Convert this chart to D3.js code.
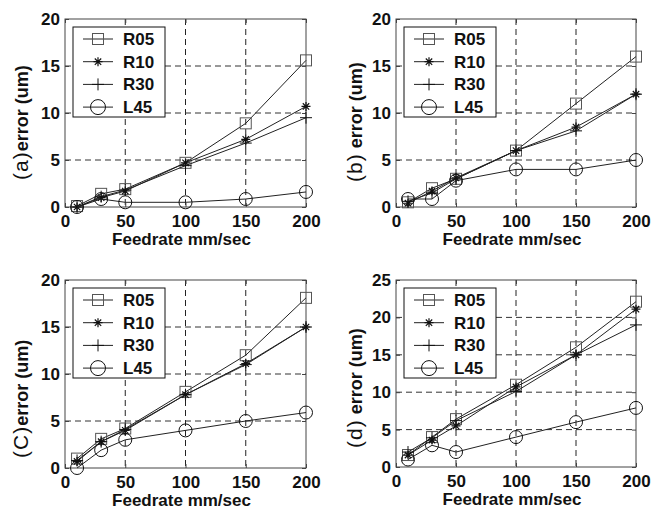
<!DOCTYPE html>
<html>
<head>
<meta charset="utf-8">
<script src="https://cdn.jsdelivr.net/npm/d3@7"></script>
<style>
  body { margin: 0; background: #fff; }
  svg { display: block; font-family: "Liberation Sans", Arial, sans-serif; }
</style>
</head>
<body>
<div id="chartContainer"></div>
<script>
// feedrate values (x) shared by all four panels
const feedrates = [10, 30, 50, 100, 150, 200];
const seriesNames = ["R05", "R10", "R30", "L45"];
const xTicks = [0, 50, 100, 150, 200];
const yTicks20 = [0, 5, 10, 15, 20];
const yTicks25 = [0, 5, 10, 15, 20, 25];

// (a)
const r05_a = [0.1, 1.4, 1.9, 4.7, 8.9, 15.6];
const r10_a = [0.0, 1.0, 1.7, 4.7, 7.2, 10.7];
const r30_a = [0.0, 1.1, 1.8, 4.4, 6.8, 9.5];
const l45_a = [0.0, 0.85, 0.5, 0.5, 0.85, 1.6];
// (b)
const r05_b = [0.5, 2.0, 3.0, 6.0, 11.0, 16.0];
const r10_b = [0.4, 1.7, 3.1, 6.0, 8.5, 12.0];
const r30_b = [0.6, 1.5, 3.0, 6.0, 8.1, 12.0];
const l45_b = [0.85, 0.85, 2.8, 4.0, 4.0, 5.0];
// (c)
const r05_c = [1.0, 3.1, 4.2, 8.1, 12.0, 18.1];
const r10_c = [0.7, 2.8, 4.0, 7.8, 11.1, 15.0];
const r30_c = [0.8, 2.8, 4.1, 7.8, 11.0, 15.0];
const l45_c = [0.0, 1.9, 3.0, 4.0, 5.0, 5.9];
// (d)
const r05_d = [1.6, 4.0, 6.4, 11.0, 16.0, 22.1];
const r10_d = [1.6, 3.6, 5.5, 10.7, 15.0, 21.1];
const r30_d = [2.0, 3.9, 6.2, 10.1, 15.0, 19.0];
const l45_d = [1.0, 2.9, 2.0, 4.0, 6.0, 7.9];

const markers = ["square", "star", "plus", "circle"];

// panel layout (box = left, top, width, height)
const panels = [
    {tag: "(a)", text: "error (um)", box: [65, 19, 241, 188], yMax: 20, yTicks: yTicks20,
     data: [r05_a, r10_a, r30_a, l45_a], lx: 28, ly: 180},
    {tag: "(b)", text: " error (um)", box: [396, 19, 240, 188], yMax: 20, yTicks: yTicks20,
     data: [r05_b, r10_b, r30_b, l45_b], lx: 362, ly: 182},
    {tag: "(C)", text: "error (um)", box: [65, 280, 241, 188], yMax: 20, yTicks: yTicks20,
     data: [r05_c, r10_c, r30_c, l45_c], lx: 28, ly: 458},
    {tag: "(d)", text: " error (um)", box: [396, 280, 240, 187], yMax: 25, yTicks: yTicks25,
     data: [r05_d, r10_d, r30_d, l45_d], lx: 362, ly: 448}
];

const svg = d3.select("#chartContainer")
    .append("svg")
    .attr("width", 664)
    .attr("height", 516);

svg.append("rect").attr("width", 664).attr("height", 516).attr("fill", "#fff");

function drawMarker(g, type, x, y, big)
{
    var m = g.append("g").attr("transform", `translate(${x},${y})`);
    if (type == "square") {
        var s = 11;
        m.append("rect").attr("x", -s/2).attr("y", -s/2).attr("width", s).attr("height", s)
            .attr("fill", "none").attr("stroke", "#555").attr("stroke-width", 1);
    } else if (type == "circle") {
        m.append("circle").attr("r", big ? 7.5 : 6.5)
            .attr("fill", "none").attr("stroke", "#111").attr("stroke-width", 1);
    } else if (type == "plus") {
        var a = 6;
        m.append("path").attr("d", `M${-a},0H${a}M0,${-a}V${a}`)
            .attr("stroke", "#111").attr("stroke-width", 1);
    } else {
        var b = 4.5, c = 3.2;
        m.append("path").attr("d", `M${-b},0H${b}M0,${-b}V${b}M${-c},${-c}L${c},${c}M${-c},${c}L${c},${-c}`)
            .attr("stroke", "#111").attr("stroke-width", 1.2);
    }
}

function drawPanel(p)
{
    const [left, top, w, h] = p.box;
    const g = svg.append("g").attr("transform", `translate(${left},${top})`);

    const xScale = d3.scaleLinear().domain([0, 200]).range([0, w]);
    const yScale = d3.scaleLinear().domain([0, p.yMax]).range([h, 0]);

    // dashed grid
    g.append("g").selectAll("line")
        .data(xTicks.slice(1, -1))
        .join("line")
        .attr("x1", d => xScale(d)).attr("x2", d => xScale(d))
        .attr("y1", 0).attr("y2", h)
        .attr("stroke", "#222").attr("stroke-dasharray", "6,4");
    g.append("g").selectAll("line")
        .data(p.yTicks.slice(1, -1))
        .join("line")
        .attr("y1", d => yScale(d)).attr("y2", d => yScale(d))
        .attr("x1", 0).attr("x2", w)
        .attr("stroke", "#333").attr("stroke-dasharray", "6,4");

    // axes, ticks pointing inwards
    const bottom = g.append("g").attr("transform", `translate(0,${h})`)
        .call(d3.axisBottom(xScale).tickValues(xTicks).tickSizeInner(-4).tickSizeOuter(0).tickPadding(8));
    const leftAx = g.append("g")
        .call(d3.axisLeft(yScale).tickValues(p.yTicks).tickSizeInner(-4).tickSizeOuter(0).tickPadding(5));
    g.append("g")
        .call(d3.axisTop(xScale).tickValues(xTicks).tickSizeInner(-4).tickSizeOuter(0).tickFormat(""));
    g.append("g").attr("transform", `translate(${w},0)`)
        .call(d3.axisRight(yScale).tickValues(p.yTicks).tickSizeInner(-4).tickSizeOuter(0).tickFormat(""));

    g.selectAll(".domain").remove();
    g.selectAll(".tick line").attr("stroke", "#444");
    [bottom, leftAx].forEach(a => a.selectAll("text")
        .attr("fill", "#111")
        .style("font-size", "17px")
        .style("font-weight", "bold")
        .style("font-family", "'Liberation Sans', Arial, sans-serif"));

    g.append("rect").attr("width", w).attr("height", h)
        .attr("fill", "none").attr("stroke", "#444").attr("stroke-width", 1);

    // series lines + markers
    const line = d3.line().x((d, i) => xScale(feedrates[i])).y(d => yScale(d));
    p.data.forEach(function(vals, k){
        g.append("path").datum(vals)
            .attr("d", line)
            .attr("fill", "none")
            .attr("stroke", "#222")
            .attr("stroke-width", 1);
        vals.forEach(function(v, i){
            drawMarker(g, markers[k], xScale(feedrates[i]), yScale(v), false);
        });
    });

    // legend
    const lg = g.append("g").attr("transform", "translate(8,8)");
    lg.append("rect").attr("width", 92).attr("height", 90)
        .attr("fill", "#fff").attr("stroke", "#111").attr("stroke-width", 1);
    seriesNames.forEach(function(name, k){
        var yy = 12 + k * 22.7;
        lg.append("line").attr("x1", 10).attr("x2", 40).attr("y1", yy).attr("y2", yy)
            .attr("stroke", "#222");
        drawMarker(lg, markers[k], 25, yy, true);
        lg.append("text").attr("x", 50).attr("y", yy + 6)
            .attr("fill", "#111")
            .style("font-size", "17px").style("font-weight", "bold")
            .text(name);
    });

    // x label
    svg.append("text")
        .attr("x", left + w / 2 - 4).attr("y", top + h + 38)
        .attr("text-anchor", "middle")
        .attr("fill", "#111")
        .style("font-size", "17px").style("font-weight", "bold")
        .text("Feedrate mm/sec");

    // y label
    const yl = svg.append("text")
        .attr("transform", `translate(${p.lx},${p.ly}) rotate(-90)`)
        .attr("fill", "#111");
    yl.append("tspan").style("font-size", "21px").style("letter-spacing", "1px").text(p.tag);
    yl.append("tspan").style("font-size", "18px").style("font-weight", "bold").text(p.text);
}

panels.forEach(drawPanel);
</script>
</body>
</html>
